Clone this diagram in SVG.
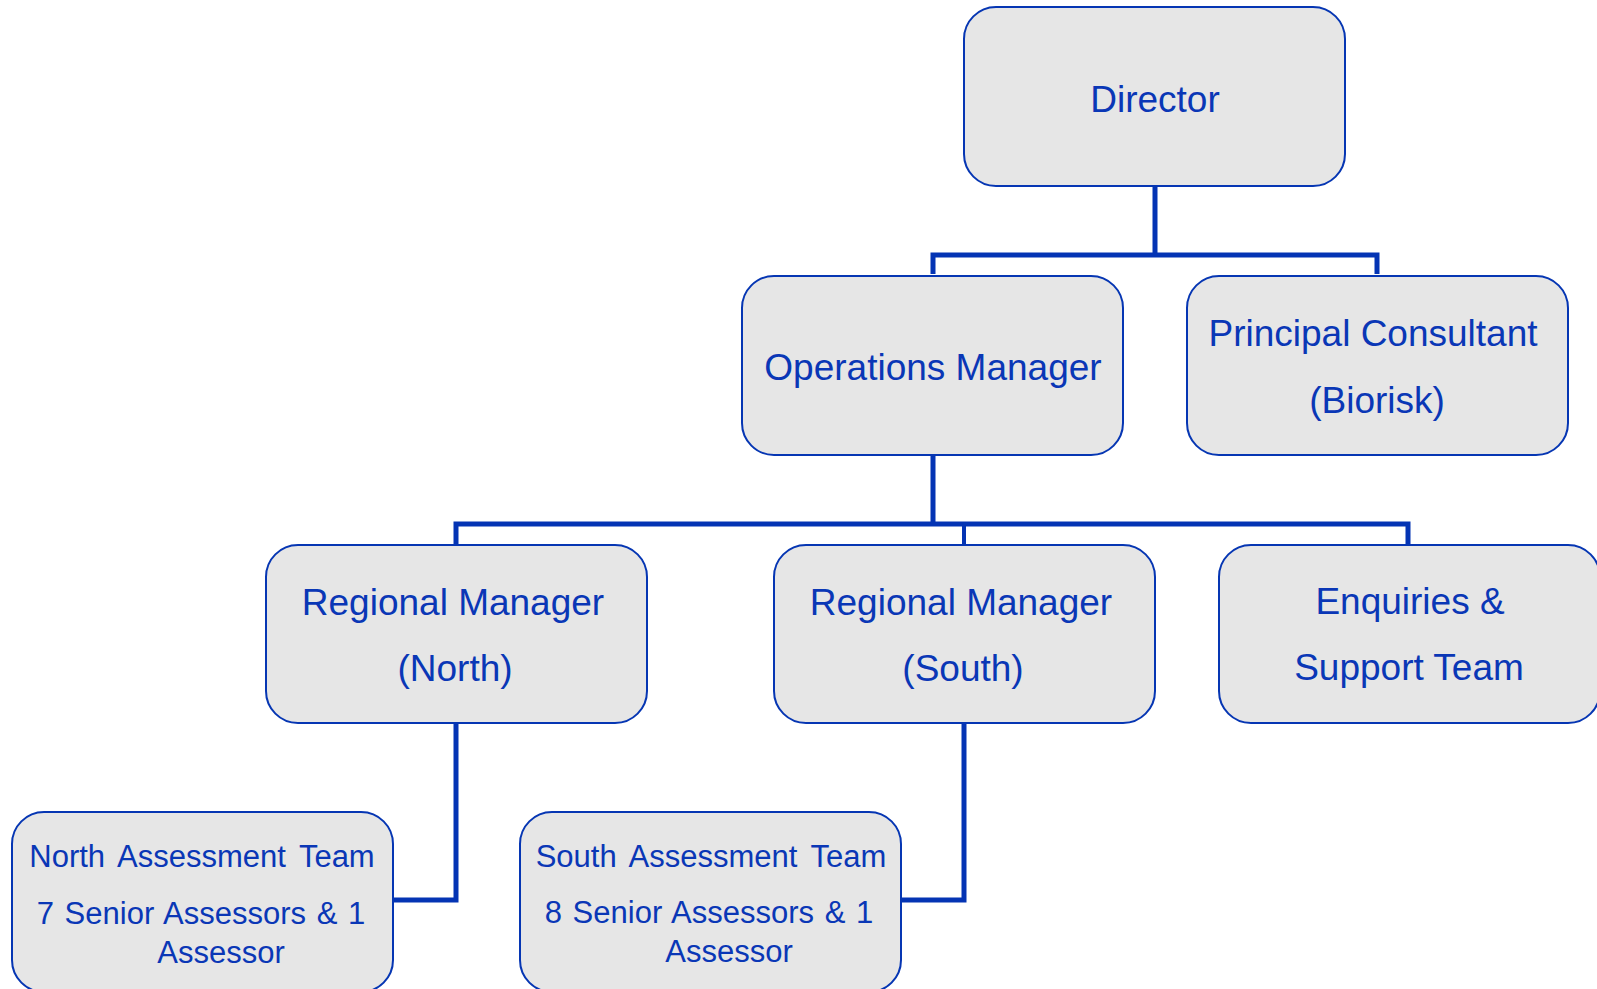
<svg xmlns="http://www.w3.org/2000/svg" width="1597" height="989" viewBox="0 0 1597 989">
<style>
.box{fill:#E6E6E6;stroke:#0636B3;stroke-width:2}
.t{font-family:"Liberation Sans",Arial,sans-serif;fill:#0A37B6;text-anchor:middle;font-size:37px}
.s{font-family:"Liberation Sans",Arial,sans-serif;fill:#0A37B6;text-anchor:middle;font-size:31px}
.c{fill:none;stroke:#0434B4;stroke-width:5}
.c2{fill:none;stroke:#0434B4;stroke-width:4}
</style>
<rect width="1597" height="989" fill="#FFFFFF"/>
<g id="connectors">
<path class="c" d="M1155 186 V255 M933 274 V255 H1377 V274"/>
<path class="c" d="M933 455 V524 M456 545 V524 H1408 V545"/>
<path class="c2" d="M964 524 V545"/>
<path class="c" d="M456 723 V900 H393"/>
<path class="c" d="M964 723 V900 H901"/>
</g>
<g id="director">
<rect class="box" x="964" y="7" width="381" height="179" rx="32"/>
<text class="t" x="1155" y="112">Director</text>
</g>
<g id="operations-manager">
<rect class="box" x="742" y="276" width="381" height="179" rx="32"/>
<text class="t" x="933" y="380">Operations Manager</text>
</g>
<g id="principal-consultant">
<rect class="box" x="1187" y="276" width="381" height="179" rx="32"/>
<text class="t" x="1373" y="346">Principal Consultant</text>
<text class="t" x="1377" y="413">(Biorisk)</text>
</g>
<g id="regional-manager-north">
<rect class="box" x="266" y="545" width="381" height="178" rx="32"/>
<text class="t" x="453" y="615">Regional Manager</text>
<text class="t" x="455" y="681">(North)</text>
</g>
<g id="regional-manager-south">
<rect class="box" x="774" y="545" width="381" height="178" rx="32"/>
<text class="t" x="961" y="615">Regional Manager</text>
<text class="t" x="963" y="681">(South)</text>
</g>
<g id="enquiries-support">
<rect class="box" x="1219" y="545" width="381" height="178" rx="32"/>
<text class="t" x="1410" y="614">Enquiries &amp;</text>
<text class="t" x="1409" y="680">Support Team</text>
</g>
<g id="north-assessment-team">
<rect class="box" x="12" y="812" width="381" height="180" rx="32"/>
<text class="s" x="202" y="867" word-spacing="5">North Assessment Team</text>
<text class="s" x="201" y="924" word-spacing="2">7 Senior Assessors &amp; 1</text>
<text class="s" x="221" y="963">Assessor</text>
</g>
<g id="south-assessment-team">
<rect class="box" x="520" y="812" width="381" height="180" rx="32"/>
<text class="s" x="711" y="867" word-spacing="5">South Assessment Team</text>
<text class="s" x="709" y="923" word-spacing="2">8 Senior Assessors &amp; 1</text>
<text class="s" x="729" y="962">Assessor</text>
</g>
</svg>
